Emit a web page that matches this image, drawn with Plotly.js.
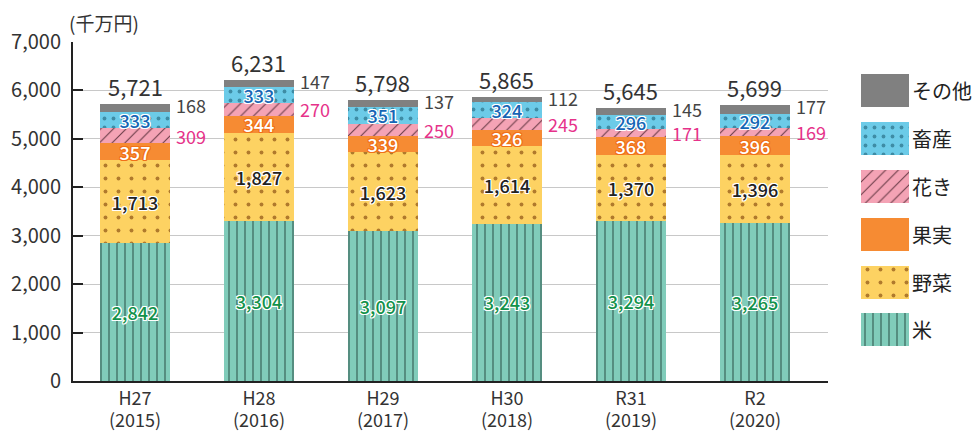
<!DOCTYPE html>
<html>
<head>
<meta charset="utf-8">
<script src="https://cdn.plot.ly/plotly-3.0.1.min.js"></script>
<style>html,body{margin:0;padding:0;background:#fff;}</style>
</head>
<body>
<div id="chart" style="width:979px;height:432px;"></div>
<script>
// ---- data ----
const eras = ["H27", "H28", "H29", "H30", "R31", "R2"];
const yearsAD = ["(2015)", "(2016)", "(2017)", "(2018)", "(2019)", "(2020)"];
const rice       = [2842, 3304, 3097, 3243, 3294, 3265];   // 米
const vegetables = [1713, 1827, 1623, 1614, 1370, 1396];   // 野菜
const fruits     = [357, 344, 339, 326, 368, 396];         // 果実
const flowers    = [309, 270, 250, 245, 171, 169];         // 花き
const livestock  = [333, 333, 351, 324, 296, 292];         // 畜産
const others     = [168, 147, 137, 112, 145, 177];         // その他
const totals     = [5721, 6231, 5798, 5865, 5645, 5699];
const seriesNames = ["米", "野菜", "果実", "花き", "畜産", "その他"];
const legendOrder = ["その他", "畜産", "花き", "果実", "野菜", "米"];

// ---- styles ----
const FONT = "Noto Sans CJK JP, Noto Sans, sans-serif";
const fmt = v => v.toLocaleString("en-US");
const outline = c => `-1px -1px 0 ${c}, 1px -1px 0 ${c}, -1px 1px 0 ${c}, 1px 1px 0 ${c}, 0 1px 0 ${c}, 0 -1px 0 ${c}, 1px 0 0 ${c}, -1px 0 0 ${c}`;
const styles = {
  "米":   {color: "#80ccba", pattern: {shape: "|", fgcolor: "#3c6a5f", size: 8, solidity: 0.16}, tc: "#12924a", sh: "#ffffff"},
  "野菜": {color: "#fdd262", pattern: {shape: ".", fgcolor: "#b07a2c", size: 13, solidity: 0.07}, tc: "#222222", sh: "#ffffff"},
  "果実": {color: "#f68b33", pattern: null, tc: "#ffffff", sh: "#f07018"},
  "花き": {color: "#f4a3b5", pattern: {shape: "/", fgcolor: "#6a3c48", size: 9, solidity: 0.12}, tc: null, sh: null},
  "畜産": {color: "#6ccbe8", pattern: {shape: ".", fgcolor: "#3e8ca5", size: 9, solidity: 0.14}, tc: "#1666b5", sh: "#ffffff"},
  "その他": {color: "#808080", pattern: null, tc: null, sh: null}
};
const seriesData = {"米": rice, "野菜": vegetables, "果実": fruits, "花き": flowers, "畜産": livestock, "その他": others};

function makeMarker(s) {
  const marker = {color: s.color, line: {width: 0}};
  if (s.pattern) marker.pattern = Object.assign({fillmode: "replace", bgcolor: s.color}, s.pattern);
  return marker;
}

const BW = 0.565;
const traces = [];
seriesNames.forEach(name => {
  const s = styles[name];
  const t = {
    type: "bar", name: name, x: eras, y: seriesData[name],
    width: BW, marker: makeMarker(s), showlegend: false, hoverinfo: "skip",
    xaxis: "x", yaxis: "y"
  };
  if (s.tc) {
    t.text = seriesData[name].map(fmt);
    t.textposition = "inside";
    t.insidetextanchor = "middle";
    t.textangle = 0;
    t.constraintext = "none";
    t.textfont = {family: FONT, size: 18, color: s.tc, weight: 500, shadow: outline(s.sh)};
  } else {
    t.textposition = "none";
  }
  traces.push(t);
});

// legend swatches as small bars in a side subplot
legendOrder.forEach(name => {
  const s = styles[name];
  traces.push({
    type: "bar", orientation: "h", name: name, y: [name], x: [1], width: 0.69,
    marker: makeMarker(s), showlegend: false, hoverinfo: "skip", xaxis: "x2", yaxis: "y2",
    text: [name], textposition: "outside", cliponaxis: false,
    textfont: {family: FONT, size: 20, color: "#222"}
  });
});

// annotations
const annotations = [];
eras.forEach((era, i) => {
  const base = rice[i] + vegetables[i] + fruits[i];
  const top = base + flowers[i] + livestock[i] + others[i];
  annotations.push({x: i + BW / 2, y: base + flowers[i] / 2, xref: "x", yref: "y",
    text: fmt(flowers[i]), showarrow: false, xanchor: "left", yanchor: "middle", xshift: 4,
    font: {family: FONT, size: 18, color: "#e6328a"}});
  annotations.push({x: i + BW / 2, y: top, xref: "x", yref: "y",
    text: fmt(others[i]), showarrow: false, xanchor: "left", yanchor: "middle", xshift: 4, yshift: -1,
    font: {family: FONT, size: 18, color: "#444"}});
  annotations.push({x: i, y: top, xref: "x", yref: "y",
    text: fmt(totals[i]), showarrow: false, xanchor: "center", yanchor: "bottom", yshift: 0,
    font: {family: FONT, size: 22, color: "#333"}});
  // second line of category label (western year)
  annotations.push({x: i, y: -(419 - 381) / 339, xref: "x", yref: "paper",
    text: yearsAD[i], showarrow: false, xanchor: "center", yanchor: "middle",
    font: {family: FONT, size: 18, color: "#333"}});
});
annotations.push({x: (67 - 73) / 906, y: 1 + (42 - 22) / 339, xref: "paper", yref: "paper", text: "(千万円)", showarrow: false,
  xanchor: "left", yanchor: "middle", font: {family: FONT, size: 19, color: "#333"}});

const layout = {
  width: 979, height: 432,
  margin: {l: 73, r: 0, t: 42, b: 51},
  paper_bgcolor: "#fff", plot_bgcolor: "#fff",
  barmode: "stack",
  font: {family: FONT, color: "#333"},
  xaxis: {domain: [0, 755 / 906], type: "category", showline: true, linecolor: "#222", linewidth: 2,
    ticks: "", tickfont: {family: FONT, size: 18, color: "#333"}, ticklabelstandoff: 0,
    showgrid: false, zeroline: false, fixedrange: true},
  yaxis: {range: [0, 7000], dtick: 1000, tickformat: ",", showline: true, linecolor: "#222", linewidth: 2,
    ticks: "inside", ticklen: 10, tickwidth: 2, tickcolor: "#222",
    showgrid: true, gridcolor: "#c8c8c8", gridwidth: 1, zeroline: false,
    tickfont: {family: FONT, size: 20, color: "#333"}, ticklabelstandoff: 6, fixedrange: true},
  xaxis2: {domain: [(861 - 73) / 906, 1], anchor: "y2", range: [0, 118 / 48], visible: false, fixedrange: true},
  yaxis2: {domain: [0, 1], anchor: "x2", type: "category", categoryarray: legendOrder, categoryorder: "array",
    range: [6.07, -1.025], visible: false, fixedrange: true},
  annotations: annotations,
  showlegend: false
};

Plotly.newPlot("chart", traces, layout, {displayModeBar: false, staticPlot: true});
</script>
</body>
</html>
